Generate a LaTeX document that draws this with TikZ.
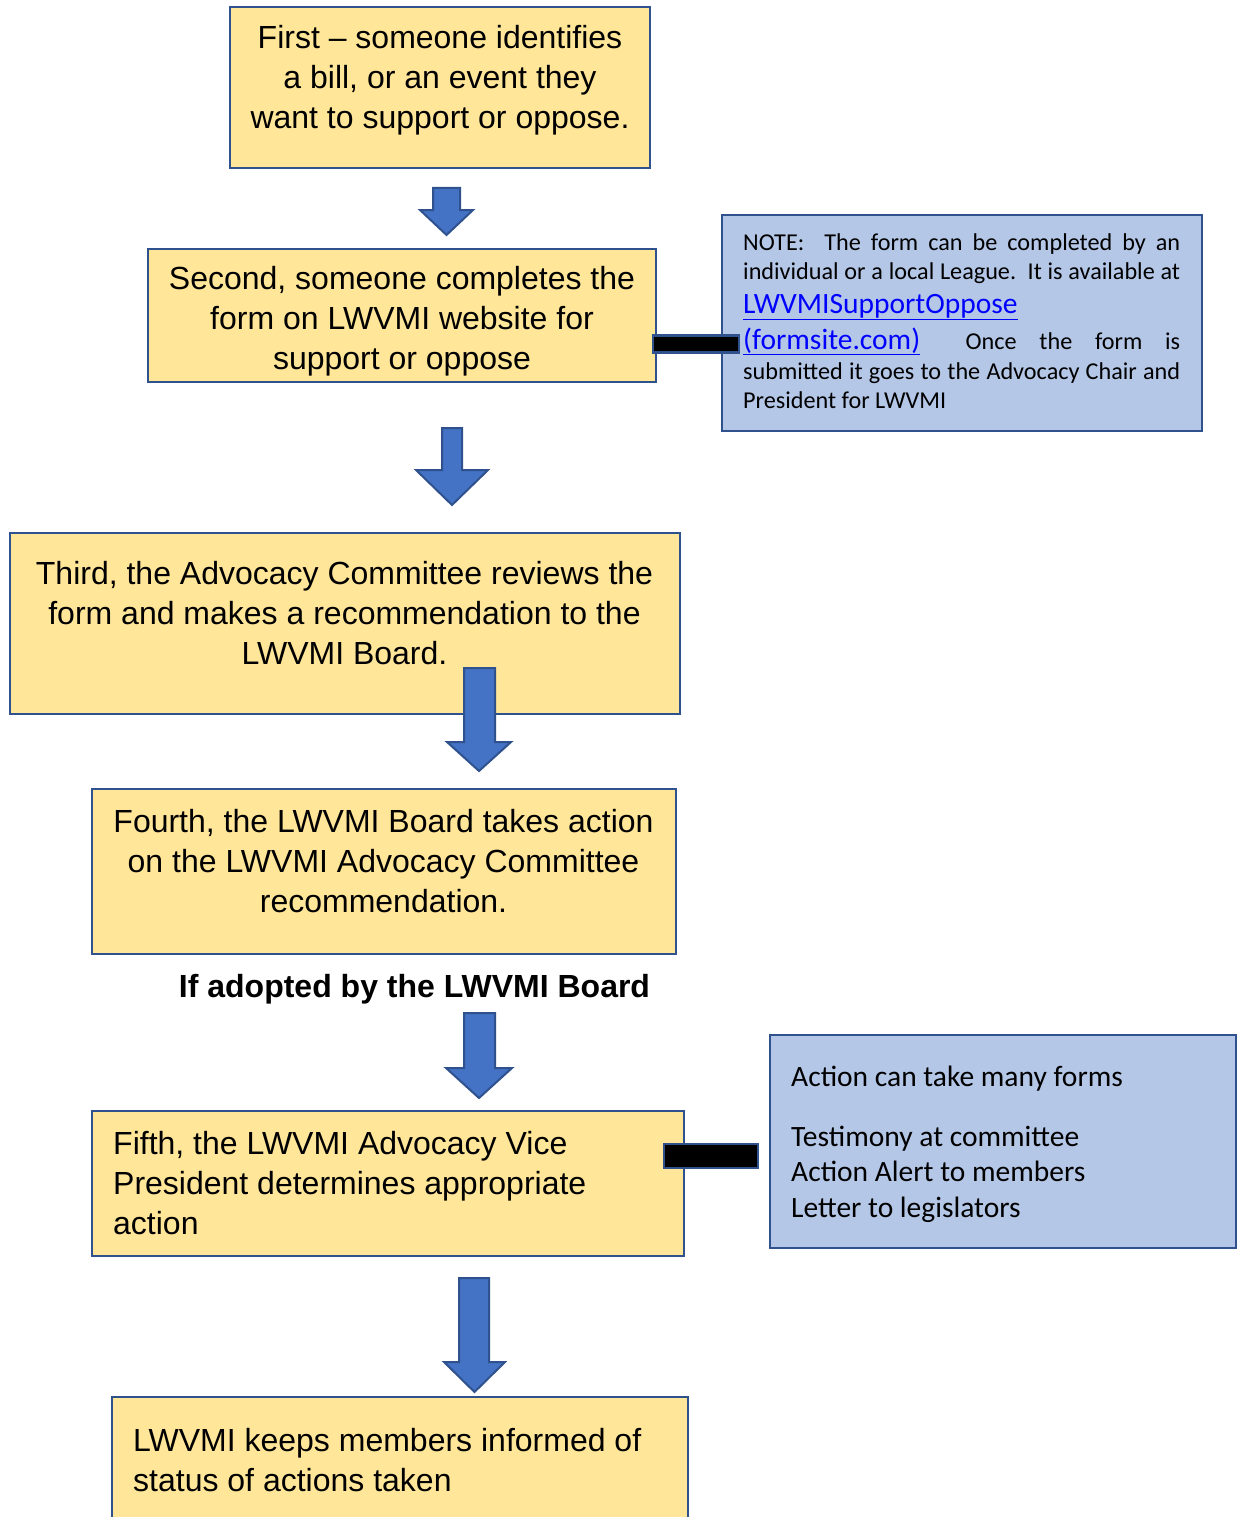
\documentclass[tikz,border=0pt]{standalone}
\usepackage{fontspec}
\setmainfont{Liberation Sans}
\newfontfamily\calibri{Carlito}
\definecolor{boxyellow}{HTML}{FFE699}
\definecolor{boxblue}{HTML}{B4C7E7}
\definecolor{edgeblue}{HTML}{2F528F}
\definecolor{arrowblue}{HTML}{4472C4}
\definecolor{linkblue}{HTML}{0000FF}
\newcommand{\linkfont}{\calibri\fontsize{29.5}{35}\selectfont\color{linkblue}}
\begin{document}
\begin{tikzpicture}[x=1pt,y=-1pt,
  ybox/.style={rectangle, fill=boxyellow, draw=edgeblue, line width=2.5pt, inner sep=0pt, outer sep=0pt},
  bbox/.style={rectangle, fill=boxblue, draw=edgeblue, line width=2.5pt, inner sep=0pt, outer sep=0pt},
  conn/.style={rectangle, fill=black, draw=edgeblue, line width=2.5pt, inner sep=0pt, outer sep=0pt},
  blockarrow/.style={fill=arrowblue, draw=edgeblue, line width=2pt, line join=miter},
  ytext/.style={inner sep=0pt, anchor=north, align=center, font=\fontsize{32}{40}\selectfont},
  ltext/.style={inner sep=0pt, anchor=north west, align=left, font=\fontsize{32}{40}\selectfont},
  ntext/.style={inner sep=0pt, anchor=base west, font=\calibri\fontsize{24.2}{29}\selectfont}
]
\useasboundingbox (0,0) rectangle (1244,1517);
\fill[white] (0,0) rectangle (1244,1517);

% yellow boxes
\node[ybox, minimum width=420, minimum height=161] (b1) at (440,87.5) {};
\node[ybox, minimum width=508, minimum height=133] (b2) at (402,315.5) {};
\node[ybox, minimum width=670, minimum height=181] (b3) at (345,623.5) {};
\node[ybox, minimum width=584, minimum height=165] (b4) at (384,871.5) {};
\node[ybox, minimum width=592, minimum height=145] (b5) at (388,1183.5) {};
\node[ybox, minimum width=576, minimum height=160] (b6) at (400,1477) {};

% blue note boxes
\node[bbox, minimum width=480, minimum height=216] (n1) at (962,323) {};
\node[bbox, minimum width=466, minimum height=213] (n2) at (1003,1141.5) {};

% connectors
\node[conn, minimum width=86, minimum height=17] (c1) at (696,344) {};
\node[conn, minimum width=94, minimum height=24] (c2) at (711,1156) {};

% block arrows
\draw[blockarrow] (433,188) -- (460,188) -- (460,210) -- (473,210) -- (446.5,235) -- (420,210) -- (433,210) -- cycle;
\draw[blockarrow] (442,428) -- (462,428) -- (462,470) -- (488,470) -- (452,505) -- (416,470) -- (442,470) -- cycle;
\draw[blockarrow] (464,668) -- (495,668) -- (495,742) -- (511,742) -- (479,771) -- (447,742) -- (464,742) -- cycle;
\draw[blockarrow] (464,1013) -- (495,1013) -- (495,1068) -- (512,1068) -- (479,1098) -- (446,1068) -- (464,1068) -- cycle;
\draw[blockarrow] (459,1278) -- (489,1278) -- (489,1362) -- (505,1362) -- (474.5,1392) -- (444,1362) -- (459,1362) -- cycle;

% yellow box texts
\node[ytext] (t1) at (440,20) {\strut First – someone identifies\\a bill, or an event they\\want to support or oppose.};
\node[ytext] (t2) at (402,261) {\strut Second, someone completes the\\form on LWVMI website for\\support or oppose};
\node[ytext] (t3) at (344.5,556) {\strut Third, the Advocacy Committee reviews the\\form and makes a recommendation to the\\LWVMI Board.};
\node[ytext] (t4) at (383.5,804) {\strut Fourth, the LWVMI Board takes action\\on the LWVMI Advocacy Committee\\recommendation.};
\node[ltext] (t5) at (113,1126) {\strut Fifth, the LWVMI Advocacy Vice\\President determines appropriate\\action};
\node[ltext] (t6) at (133,1423) {\strut LWVMI keeps members informed of\\status of actions taken};
\node[inner sep=0pt, anchor=base, font=\bfseries\fontsize{32}{40}\selectfont] (adopt) at (414.5,997) {If adopted by the LWVMI Board};

% note text
\node[ntext] (l1) at (743,250) {\hbox to 437pt{NOTE:\ \ The form can be completed by an}};
\node[ntext] (l2) at (743,279) {\hbox to 437pt{individual or a local League.\ \ It is available at}};
\node[ntext] (l3) at (743,313) {{\linkfont\underline{LWVMISupportOppose}}};
\node[ntext] (l4) at (743,349) {\hbox to 437pt{{\linkfont\underline{(formsite.com)}}\hfill\hfill Once\hfill the\hfill form\hfill is}};
\node[ntext] (l5) at (743,379) {\hbox to 437pt{submitted it goes to the Advocacy Chair and}};
\node[ntext] (l6) at (743,408) {President for LWVMI};

% action text
\node[inner sep=0pt, anchor=north west, align=left, font=\calibri\fontsize{29.5}{35.5}\selectfont] (act) at (791,1061.15) {\strut Action can take many forms\\[24.5pt]Testimony at committee\\Action Alert to members\\Letter to legislators};
\end{tikzpicture}
\end{document}
